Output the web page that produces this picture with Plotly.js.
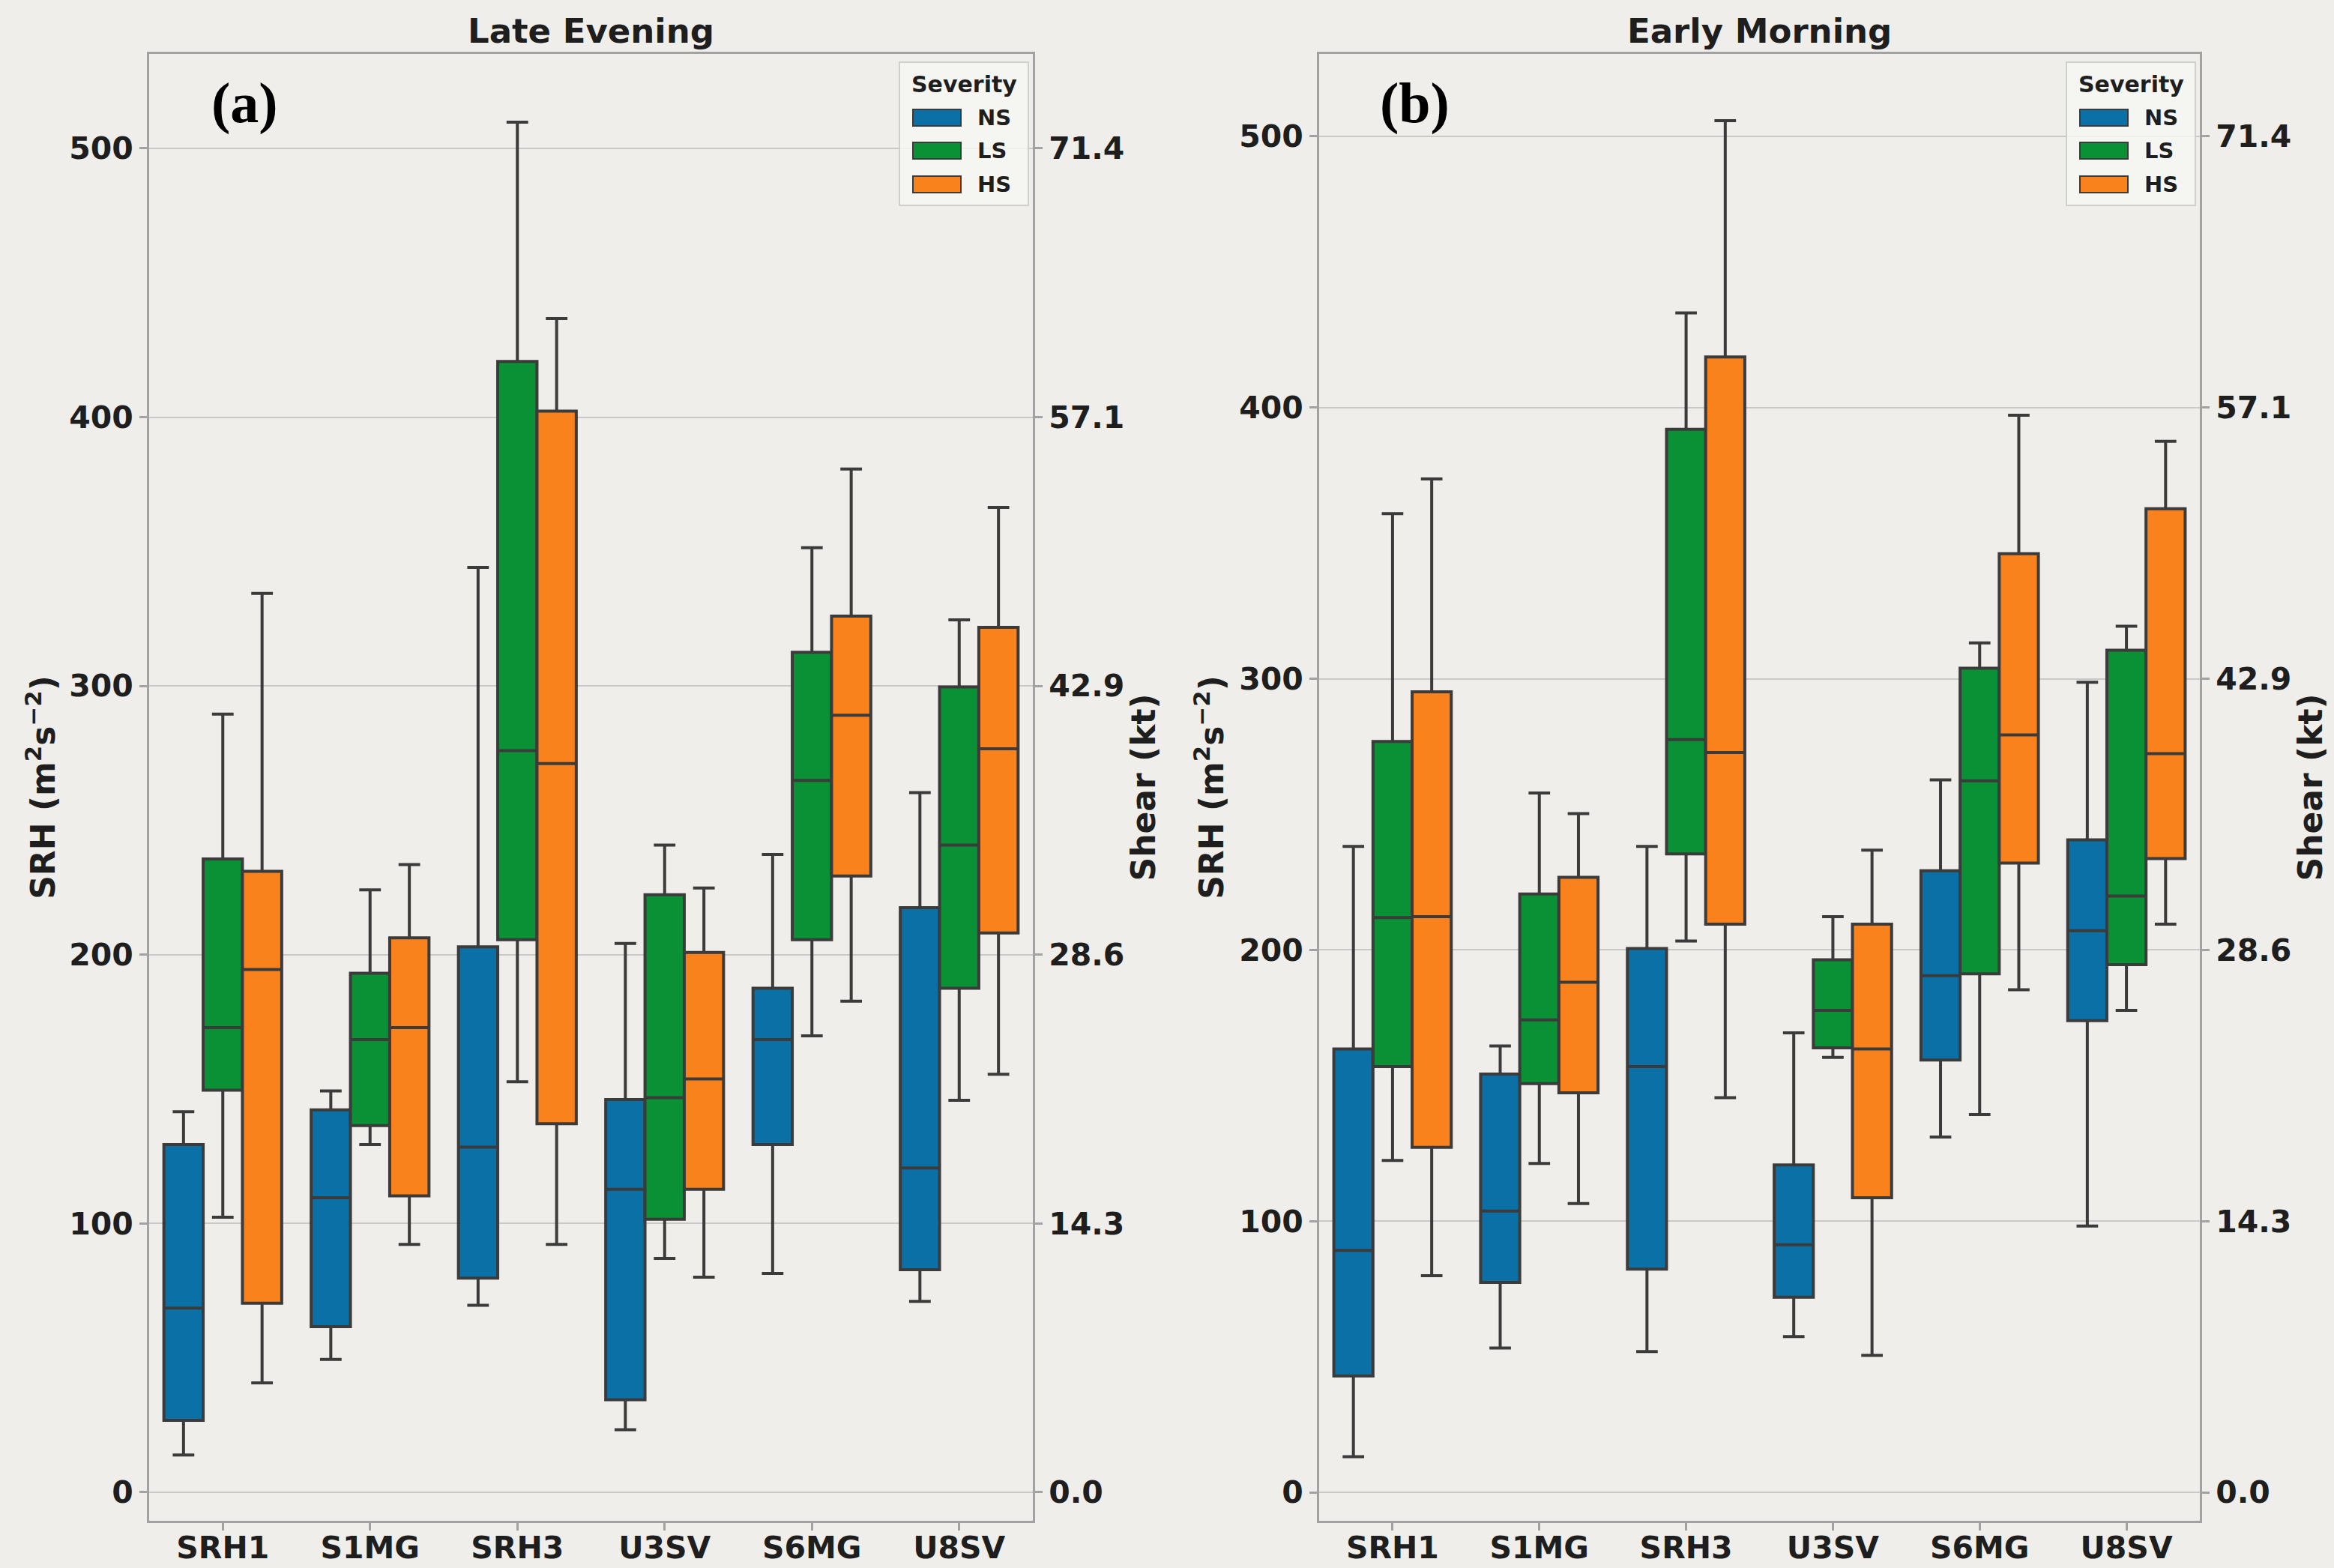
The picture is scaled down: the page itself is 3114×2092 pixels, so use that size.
<!DOCTYPE html>
<html>
<head>
<meta charset="utf-8">
<script src="https://cdn.plot.ly/plotly-3.0.1.min.js"></script>
<style>
  html, body { margin: 0; padding: 0; background: #efeeea; }
  #chart { width: 3114px; height: 2092px; }
</style>
</head>
<body>
<div id="chart"></div>
<script>
// ---- categories, groups and tick labels ----
const categories = ['SRH1', 'S1MG', 'SRH3', 'U3SV', 'S6MG', 'U8SV'];
const severities = ['NS', 'LS', 'HS'];
const severityColors = ['#0b70a6', '#0a9035', '#fa821c'];
const panelTitles = ['Late Evening', 'Early Morning'];
const panelTags = ['(a)', '(b)'];
const srhTicks = [0, 100, 200, 300, 400, 500];
const shearTicks = [0.0, 14.3, 28.6, 42.9, 57.1, 71.4];

// ---- Late Evening box statistics (SRH, m2 s-2) ----
const lateNS_low  = [13.9, 49.4, 69.6, 23.3, 81.4, 71.0];
const lateNS_q1   = [26.8, 61.6, 79.7, 34.4, 129.4, 82.8];
const lateNS_med  = [68.5, 109.6, 128.4, 112.7, 168.4, 120.7];
const lateNS_q3   = [129.4, 142.3, 202.9, 146.1, 187.5, 217.5];
const lateNS_high = [141.6, 149.3, 344.1, 204.2, 237.3, 260.3];

const lateLS_low  = [102.3, 129.4, 152.7, 87.0, 169.8, 145.8];
const lateLS_q1   = [149.6, 136.4, 205.6, 101.6, 205.6, 187.5];
const lateLS_med  = [172.9, 168.4, 275.9, 146.8, 264.8, 240.8];
const lateLS_q3   = [235.6, 193.1, 420.7, 222.3, 312.5, 299.6];
const lateLS_high = [289.5, 224.1, 509.7, 240.8, 351.4, 324.6];

const lateHS_low  = [40.7, 92.2, 92.2, 80.0, 182.7, 155.5];
const lateHS_q1   = [70.3, 110.3, 137.1, 112.7, 229.3, 208.1];
const lateHS_med  = [194.5, 172.9, 271.1, 153.8, 289.1, 276.6];
const lateHS_q3   = [231.0, 206.3, 402.2, 200.8, 326.0, 321.8];
const lateHS_high = [334.4, 233.5, 436.7, 224.8, 380.7, 366.4];

// ---- Early Morning box statistics ----
const earlyNS_low  = [13.1, 53.2, 51.9, 57.4, 131.0, 98.2];
const earlyNS_q1   = [42.9, 77.4, 82.3, 71.9, 159.4, 173.9];
const earlyNS_med  = [89.2, 103.7, 157.0, 91.3, 190.5, 207.1];
const earlyNS_q3   = [163.5, 154.2, 200.5, 120.7, 229.2, 240.6];
const earlyNS_high = [238.2, 164.6, 238.2, 169.4, 262.7, 298.7];

const earlyLS_low  = [122.4, 121.3, 203.3, 160.4, 139.3, 177.7];
const earlyLS_q1   = [157.0, 150.7, 235.4, 163.9, 191.2, 194.6];
const earlyLS_med  = [211.9, 174.2, 277.6, 177.7, 262.4, 219.9];
const earlyLS_q3   = [276.9, 220.6, 392.0, 196.4, 303.9, 310.5];
const earlyLS_high = [360.9, 257.9, 434.9, 212.3, 313.2, 319.4];

const earlyHS_low  = [79.9, 106.5, 145.5, 50.5, 185.3, 209.5];
const earlyHS_q1   = [127.2, 147.3, 209.5, 108.6, 232.0, 233.7];
const earlyHS_med  = [212.3, 188.1, 272.8, 163.5, 279.3, 272.4];
const earlyHS_q3   = [295.2, 226.8, 418.7, 209.5, 346.1, 362.7];
const earlyHS_high = [373.7, 250.3, 505.8, 236.8, 397.2, 387.6];

// ---- assembled per panel / severity ----
const panelStats = [
  [
    [lateNS_low, lateNS_q1, lateNS_med, lateNS_q3, lateNS_high],
    [lateLS_low, lateLS_q1, lateLS_med, lateLS_q3, lateLS_high],
    [lateHS_low, lateHS_q1, lateHS_med, lateHS_q3, lateHS_high]
  ],
  [
    [earlyNS_low, earlyNS_q1, earlyNS_med, earlyNS_q3, earlyNS_high],
    [earlyLS_low, earlyLS_q1, earlyLS_med, earlyLS_q3, earlyLS_high],
    [earlyHS_low, earlyHS_q1, earlyHS_med, earlyHS_q3, earlyHS_high]
  ]
];

// ---- page geometry (pixels) ----
const W = 3114, H = 2092;
const M = { l: 199, r: 179, t: 72, b: 63 };
const plotW = W - M.l - M.r, plotH = H - M.t - M.b;
const panelLeft = [199, 1760];
const panelRight = [1378, 2935];
const srhRanges = [[-10.6, 535.1], [-10.5, 530.4]];
const px2x = px => (px - M.l) / plotW;
const px2y = py => (H - M.b - py) / plotH;

const frameColor = '#a2a2a2';
const inkColor = '#1e1e1e';
const boxLine = '#3b3b3b';
const font = (size, extra) => Object.assign({ family: 'DejaVu Sans', size: size, color: inkColor, weight: 'bold' }, extra || {});

// ---- box traces ----
const traces = [];
panelStats.forEach((groups, p) => {
  groups.forEach((st, s) => {
    traces.push({
      type: 'box',
      name: severities[s],
      x: categories,
      lowerfence: st[0],
      q1: st[1],
      median: st[2],
      q3: st[3],
      upperfence: st[4],
      xaxis: p === 0 ? 'x' : 'x2',
      yaxis: p === 0 ? 'y' : 'y3',
      offsetgroup: severities[s],
      fillcolor: severityColors[s],
      line: { color: boxLine, width: 4 },
      whiskerwidth: 0.55,
      boxpoints: false,
      showlegend: false,
      hoverinfo: 'skip'
    });
  });
});
// empty carriers so the twin shear (kt) axes are laid out on each panel
traces.push({ type: 'scatter', mode: 'lines', x: [], y: [], xaxis: 'x', yaxis: 'y2', showlegend: false, hoverinfo: 'skip' });
traces.push({ type: 'scatter', mode: 'lines', x: [], y: [], xaxis: 'x2', yaxis: 'y4', showlegend: false, hoverinfo: 'skip' });

// ---- axes ----
function catAxis(domain, anchor) {
  return {
    domain: domain, anchor: anchor, type: 'category', range: [-0.5, 5.5],
    categoryorder: 'array', categoryarray: categories,
    showline: true, mirror: true, linecolor: frameColor, linewidth: 3,
    ticks: 'outside', ticklen: 10, tickwidth: 3, tickcolor: frameColor,
    tickfont: font(41), ticklabelstandoff: -12,
    showgrid: false, zeroline: false, automargin: false,
    fixedrange: true
  };
}
function srhAxis(range, anchor, standoff) {
  return {
    domain: [0, 1], anchor: anchor, range: range,
    tickvals: srhTicks, ticktext: srhTicks.map(String),
    ticks: 'outside', ticklen: 10, tickwidth: 3, tickcolor: frameColor,
    tickfont: font(41),
    showgrid: true, gridcolor: '#c9c9c7', gridwidth: 2, zeroline: false,
    showline: true, mirror: true, linecolor: frameColor, linewidth: 3,
    title: { text: 'SRH (m<sup>2</sup>s<sup>\u22122</sup>)', font: font(44), standoff: standoff },
    automargin: true, fixedrange: true
  };
}
function shearAxis(range, over, anchor) {
  return {
    overlaying: over, side: 'right', anchor: anchor,
    range: [range[0] / 7, range[1] / 7],
    tickvals: srhTicks.map(v => v / 7),
    ticktext: shearTicks.map(v => v.toFixed(1)),
    ticks: 'outside', ticklen: 10, tickwidth: 3, tickcolor: frameColor,
    tickfont: font(41), showgrid: false, zeroline: false,
    showline: true, linecolor: frameColor, linewidth: 3,
    title: { text: 'Shear (kt)', font: font(44), standoff: 8 },
    automargin: true, fixedrange: true
  };
}

// ---- titles, panel tags and severity keys ----
const annotations = [];
const shapes = [];
[0, 1].forEach(p => {
  const left = panelLeft[p], right = panelRight[p];
  annotations.push({
    xref: 'paper', yref: 'paper', x: px2x((left + right) / 2), y: px2y(42),
    text: panelTitles[p], showarrow: false, xanchor: 'center', yanchor: 'middle',
    font: font(45)
  });
  annotations.push({
    xref: 'paper', yref: 'paper', x: px2x(left + 127), y: px2y(138),
    text: panelTags[p], showarrow: false, xanchor: 'center', yanchor: 'middle',
    font: { family: 'Liberation Serif', size: 76, color: '#000000', weight: 'bold' }
  });
  // key frame
  shapes.push({
    type: 'rect', xref: 'paper', yref: 'paper',
    x0: px2x(right - 178), x1: px2x(right - 6), y0: px2y(274), y1: px2y(83),
    line: { color: '#cfcfcd', width: 2 }, fillcolor: 'rgba(246,246,243,0.85)'
  });
  annotations.push({
    xref: 'paper', yref: 'paper', x: px2x(right - 92), y: px2y(113),
    text: 'Severity', showarrow: false, xanchor: 'center', yanchor: 'middle',
    font: font(30)
  });
  const rowY = [157, 201, 246];
  severities.forEach((name, s) => {
    shapes.push({
      type: 'rect', xref: 'paper', yref: 'paper',
      x0: px2x(right - 160), x1: px2x(right - 96),
      y0: px2y(rowY[s] + 11), y1: px2y(rowY[s] - 11),
      line: { color: boxLine, width: 2 }, fillcolor: severityColors[s]
    });
    annotations.push({
      xref: 'paper', yref: 'paper', x: px2x(right - 76), y: px2y(rowY[s]),
      text: name, showarrow: false, xanchor: 'left', yanchor: 'middle',
      font: font(29)
    });
  });
});

const layout = {
  width: W, height: H,
  margin: M,
  paper_bgcolor: '#efeeea',
  plot_bgcolor: '#efeeea',
  showlegend: false,
  hovermode: false,
  boxmode: 'group',
  boxgap: 0.2,
  boxgroupgap: 0,
  xaxis: catAxis([0, px2x(panelRight[0])], 'y'),
  yaxis: srhAxis(srhRanges[0], 'x', 5),
  yaxis2: shearAxis(srhRanges[0], 'y', 'x'),
  xaxis2: catAxis([px2x(panelLeft[1]), 1], 'y3'),
  yaxis3: srhAxis(srhRanges[1], 'x2', 7),
  yaxis4: shearAxis(srhRanges[1], 'y3', 'x2'),
  annotations: annotations,
  shapes: shapes
};

Plotly.newPlot('chart', traces, layout, { staticPlot: true, displayModeBar: false });
</script>
</body>
</html>
